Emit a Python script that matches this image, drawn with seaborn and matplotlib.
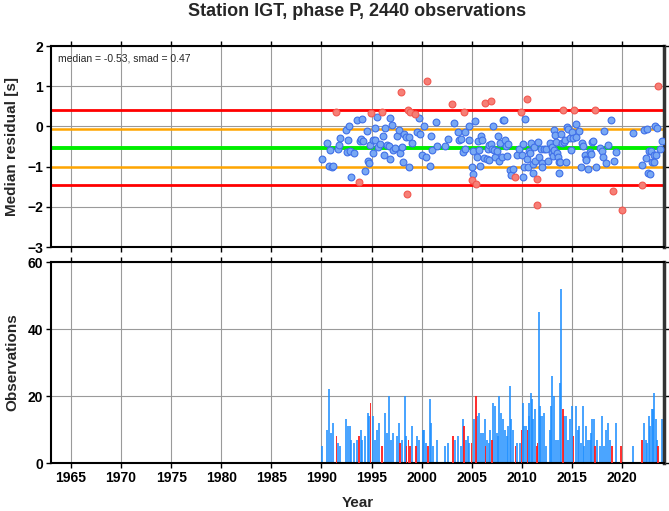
import numpy as np
import matplotlib
matplotlib.use("Agg")
import matplotlib.pyplot as plt
import seaborn as sns

# ==============================
# DATA
# ==============================
med = -0.53
smad = 0.47

# monthly median residuals inside the 2-smad band
blue_year = [1990.07, 1990.60, 1990.90, 1990.80, 1991.03, 1991.17, 1991.67, 1991.73, 1991.83,
             1992.50, 1992.67, 1992.60, 1992.83, 1992.77, 1993.00, 1993.23, 1993.57, 1993.83,
             1994.00, 1993.97, 1994.17, 1994.37, 1994.50, 1994.63, 1994.77, 1994.83, 1995.10,
             1995.17, 1995.30, 1995.37, 1995.50, 1995.67, 1995.83, 1996.10, 1996.23, 1996.30,
             1996.50, 1996.73, 1996.83, 1996.87, 1997.03, 1997.10, 1997.33, 1997.57, 1997.70,
             1997.83, 1998.03, 1998.17, 1998.27, 1998.43, 1998.70, 1998.73, 1999.00, 1999.57,
             1999.77, 1999.83, 2000.07, 2000.27, 2000.43, 2000.83, 2000.93, 2001.00, 2001.43,
             2001.50, 2002.30, 2002.63, 2003.23, 2003.63, 2003.70, 2003.97, 2004.17, 2004.30,
             2004.37, 2004.70, 2004.77, 2005.03, 2005.17, 2005.17, 2005.30, 2005.50, 2005.67,
             2005.73, 2005.87, 2005.97, 2006.07, 2006.23, 2006.50, 2006.60, 2006.70, 2006.77,
             2006.90, 2007.03, 2007.17, 2007.27, 2007.37, 2007.50, 2007.67, 2007.73, 2007.83,
             2008.03, 2008.17, 2008.23, 2008.33, 2008.43, 2008.57, 2008.63, 2008.83, 2008.97,
             2009.10, 2009.50, 2009.70, 2010.03, 2010.10, 2010.17, 2010.23, 2010.37, 2010.50,
             2010.63, 2010.70, 2010.83, 2010.90, 2011.10, 2011.17, 2011.23, 2011.37, 2011.63,
             2011.77, 2011.90, 2011.97, 2012.03, 2012.23, 2012.37, 2012.63, 2012.77, 2012.97,
             2013.03, 2013.10, 2013.17, 2013.23, 2013.30, 2013.37, 2013.47, 2013.57, 2013.67,
             2013.73, 2013.83, 2013.93, 2014.03, 2014.17, 2014.30, 2014.40, 2014.50, 2014.63,
             2014.77, 2014.90, 2015.00, 2015.10, 2015.37, 2015.43, 2015.70, 2015.90, 2016.03,
             2016.10, 2016.27, 2016.37, 2016.43, 2016.63, 2016.77, 2016.90, 2017.03, 2017.10,
             2017.43, 2017.83, 2017.97, 2018.10, 2018.23, 2018.37, 2018.57, 2018.90, 2019.23,
             2019.43, 2021.10, 2022.03, 2022.23, 2022.37, 2022.50, 2022.57, 2022.70, 2022.83,
             2022.90, 2023.03, 2023.17, 2023.23, 2023.30, 2023.37, 2023.50, 2023.83, 2024.00]
blue_resid = [-0.80, -0.42, -0.59, -0.98, -1.02, -0.99, -0.57, -0.46, -0.28,
              -0.09, -0.33, -0.63, -0.62, 0.01, -1.26, -0.65, 0.17, -0.36,
              0.19, -0.31, -0.36, -1.12, -0.12, -0.85, -0.92, -0.47, -0.33,
              -0.67, -0.04, -0.33, 0.24, -0.51, -0.43, -0.23, -0.71, -0.03,
              -0.46, -0.50, -0.80, 0.22, 0.04, -0.59, -0.53, -0.25, -0.08,
              -0.66, -0.51, -0.88, -0.18, -0.27, -0.27, -1.01, -0.42, -0.15,
              0.20, -0.18, -0.71, 0.02, -0.76, -0.98, -0.25, -0.58, 0.10,
              -0.48, -0.48, -0.32, 0.08, -0.15, -0.33, -0.31, -0.63, -0.13,
              -0.56, -0.34, 0.02, -1.00, -1.18, -0.60, 0.14, -0.77, -0.36,
              -0.58, -0.98, -0.23, -0.33, -0.79, -0.80, -0.56, -0.83, -0.46,
              -0.43, -0.55, 0.00, -0.58, -0.77, -0.61, -0.23, -0.85, -0.42,
              -0.76, 0.17, 0.15, -0.33, -0.48, -0.73, -0.45, -1.08, -1.20,
              -1.05, -0.71, -0.56, -0.72, -1.25, -0.44, -1.01, 0.18, -0.80,
              -1.01, -0.61, -0.65, -0.41, -1.17, -0.94, -0.51, -0.85, -0.39,
              -0.75, -0.56, -0.91, -1.00, -0.56, -0.56, -0.85, -0.41, -0.52,
              -0.65, -0.73, -0.08, -0.59, -0.21, -0.38, -0.66, -0.77, -0.89,
              -1.17, -0.89, -0.20, -0.42, -0.39, -0.35, -0.89, -0.01, -0.07,
              -0.30, -0.58, -0.15, -0.28, -0.27, 0.05, -0.12, -1.00, -0.41,
              -0.48, -0.70, -0.80, -0.83, -1.05, -0.63, -0.68, -0.38, -0.36,
              -1.00, -0.53, -0.62, -0.75, -0.11, -0.92, -0.47, 0.15, -0.85,
              -0.64, -0.16, -0.97, -0.10, -0.78, -0.07, -1.17, -0.62, -1.19,
              -0.60, -0.89, -0.70, -0.89, 0.02, -0.70, -0.05, -0.56, -0.36]

# monthly medians flagged as outliers
red_year = [1991.50, 1993.77, 1994.90, 1996.03, 1997.90, 1998.50, 1998.60, 1998.83, 1999.33,
            2000.57, 2003.03, 2004.23, 2005.03, 2005.40, 2006.37, 2006.97, 2009.37, 2009.97,
            2010.57, 2011.50, 2011.57, 2014.10, 2015.20, 2017.30, 2019.10, 2019.97, 2022.03,
            2023.57]
red_resid = [0.37, -1.39, 0.33, 0.36, 0.85, -1.69, 0.41, 0.35, 0.31,
             1.14, 0.56, 0.36, -1.33, -1.44, 0.58, 0.64, -1.27, 0.36,
             0.67, -1.96, -1.31, 0.40, 0.41, 0.41, -1.61, -2.07, -1.45,
             1.01]

# observations per month
bar_year = [1990.07, 1990.60, 1990.80, 1990.93, 1991.17, 1991.70, 1991.83, 1992.50, 1992.67,
            1992.83, 1993.00, 1993.23, 1993.57, 1993.90, 1994.03, 1994.37, 1994.63, 1994.77,
            1995.10, 1995.37, 1995.57, 1995.70, 1996.30, 1996.50, 1996.77, 1996.97, 1997.17,
            1997.50, 1997.70, 1998.03, 1998.30, 1998.43, 1999.03, 1999.57, 1999.77, 2000.10,
            2000.23, 2000.43, 2000.83, 2000.97, 2001.10, 2001.50, 2002.30, 2002.63, 2003.30,
            2003.63, 2003.97, 2004.17, 2004.43, 2004.63, 2004.77, 2005.23, 2005.57, 2005.77,
            2005.97, 2006.10, 2006.30, 2006.57, 2006.70, 2006.83, 2007.17, 2007.30, 2007.50,
            2007.63, 2007.77, 2007.97, 2008.17, 2008.30, 2008.50, 2008.63, 2008.83, 2008.97,
            2009.17, 2009.57, 2009.83, 2010.10, 2010.23, 2010.43, 2010.70, 2010.77, 2010.90,
            2011.03, 2011.17, 2011.30, 2011.70, 2011.83, 2011.97, 2012.17, 2012.37, 2012.77,
            2012.90, 2013.03, 2013.17, 2013.37, 2013.57, 2013.77, 2013.90, 2014.23, 2014.37,
            2014.57, 2014.83, 2015.03, 2015.37, 2015.57, 2015.70, 2015.90, 2016.10, 2016.23,
            2016.37, 2016.57, 2016.77, 2016.90, 2017.03, 2017.17, 2017.50, 2017.83, 2017.97,
            2018.17, 2018.37, 2018.57, 2018.83, 2019.37, 2021.10, 2022.23, 2022.37, 2022.50,
            2022.70, 2022.83, 2022.97, 2023.10, 2023.23, 2023.37, 2023.50, 2024.03]
bar_count = [5, 10, 22, 9, 12, 6, 5, 13, 11,
             11, 7, 6, 7, 10, 7, 8, 15, 14,
             14, 7, 10, 12, 15, 9, 20, 7, 9,
             8, 12, 7, 20, 8, 11, 8, 7, 10,
             10, 6, 19, 12, 5, 7, 5, 6, 7,
             8, 5, 13, 7, 8, 6, 13, 14, 15,
             9, 9, 13, 7, 6, 10, 18, 17, 9,
             8, 20, 15, 13, 10, 8, 11, 23, 13,
             10, 6, 6, 18, 11, 11, 14, 18, 21,
             19, 13, 16, 45, 17, 14, 15, 5, 10,
             17, 26, 20, 7, 7, 24, 52, 14, 14,
             7, 13, 17, 17, 10, 11, 6, 17, 5,
             11, 7, 7, 9, 13, 13, 7, 5, 14,
             5, 10, 12, 7, 12, 5, 12, 7, 6,
             14, 11, 16, 16, 21, 13, 7, 13]

red_bar_year = [1991.50, 1993.77, 1994.90, 1996.03, 1997.83, 1998.50, 1998.70, 1998.83, 1999.43,
                2000.63, 2003.10, 2004.23, 2004.97, 2005.43, 2006.37, 2007.03, 2009.37, 2009.97,
                2010.57, 2011.50, 2011.57, 2014.10, 2015.17, 2017.30, 2019.03, 2019.90, 2022.03,
                2023.63]
red_bar_count = [8, 8, 18, 5, 6, 5, 7, 5, 5,
                 5, 8, 11, 6, 20, 5, 7, 5, 10,
                 10, 5, 6, 16, 8, 5, 5, 5, 7,
                 5]

year_ticks = [1965, 1970, 1975, 1980, 1985, 1990, 1995, 2000, 2005, 2010, 2015, 2020]

# ==============================
# STYLE
# ==============================
sns.set_theme(style="ticks")
plt.rcParams['font.family'] = ['Liberation Sans', 'DejaVu Sans']
plt.rcParams['font.weight'] = 'bold'

W, H = 669, 511
fig = plt.figure(figsize=(W / 100, H / 100), dpi=100)
ax1 = fig.add_axes([51 / W, 1 - 247 / H, 613 / W, 201 / H])
ax2 = fig.add_axes([51 / W, 1 - 463 / H, 613 / W, 201 / H])

for ax in (ax1, ax2):
    ax.set_xlim(1963, 2024.2)
    ax.set_xticks(year_ticks)
    ax.grid(True, color="#9a9a9a", lw=0.8, zorder=0)
    ax.set_axisbelow(True)
    ax.tick_params(direction="out", length=3.5, width=1, top=True, right=True,
                   labelsize=10, colors="black", pad=2)
    for s in ("left", "bottom", "top"):
        ax.spines[s].set_visible(True)
        ax.spines[s].set_color("black")
        ax.spines[s].set_linewidth(1.5)
    ax.spines["right"].set_visible(True)
    ax.spines["right"].set_color("#333333")
    ax.spines["right"].set_linewidth(2.5)
    for lab in ax.get_xticklabels() + ax.get_yticklabels():
        lab.set_fontweight("bold")

# ==============================
# TOP PANEL: median residuals
# ==============================
ax1.set_ylim(-3, 2)
ax1.set_yticks([-3, -2, -1, 0, 1, 2])
ax1.tick_params(labelbottom=False)
ax1.axhline(med + 2 * smad, color="#ff0000", lw=2.0, zorder=2)
ax1.axhline(med - 2 * smad, color="#ff0000", lw=2.0, zorder=2)
ax1.axhline(med + smad, color="#ffa500", lw=1.8, zorder=2)
ax1.axhline(med - smad, color="#ffa500", lw=1.8, zorder=2)
ax1.axhline(med, color="#00ee00", lw=2.8, zorder=2)

sns.scatterplot(x=blue_year, y=blue_resid, ax=ax1, color="#78a8f4", edgecolor="#3f6fe8",
                s=24, linewidth=0.8, zorder=3)
sns.scatterplot(x=red_year, y=red_resid, ax=ax1, color="#f67f76", edgecolor="#f25850",
                s=24, linewidth=0.8, zorder=3)
ax1.text(0.012, 0.965, f"median = {med:.2f}, smad = {smad:.2f}", transform=ax1.transAxes,
         ha="left", va="top", fontsize=7.5, fontweight="normal")
ax1.set_ylabel("Median residual [s]", fontsize=11, fontweight="bold", labelpad=6)
ax1.set_xlabel("")

# ==============================
# BOTTOM PANEL: observations
# ==============================
ax2.set_ylim(0, 60)
ax2.set_yticks([0, 20, 40, 60])
ax2.bar(bar_year, bar_count, width=0.2, color="#1e8fff", alpha=0.8, lw=0, zorder=2)
ax2.bar(red_bar_year, red_bar_count, width=0.17, color="#ff1a1a", alpha=0.9, lw=0, zorder=3)
ax2.set_ylabel("Observations", fontsize=11, fontweight="bold", labelpad=6)
ax2.set_xlabel("Year", fontsize=11, fontweight="bold", labelpad=8)

fig.text(357.5 / W, 1 - 12 / H, "Station IGT, phase P, 2440 observations",
         ha="center", va="center", fontsize=13, fontweight="bold")

fig.savefig("out.png", dpi=100)
